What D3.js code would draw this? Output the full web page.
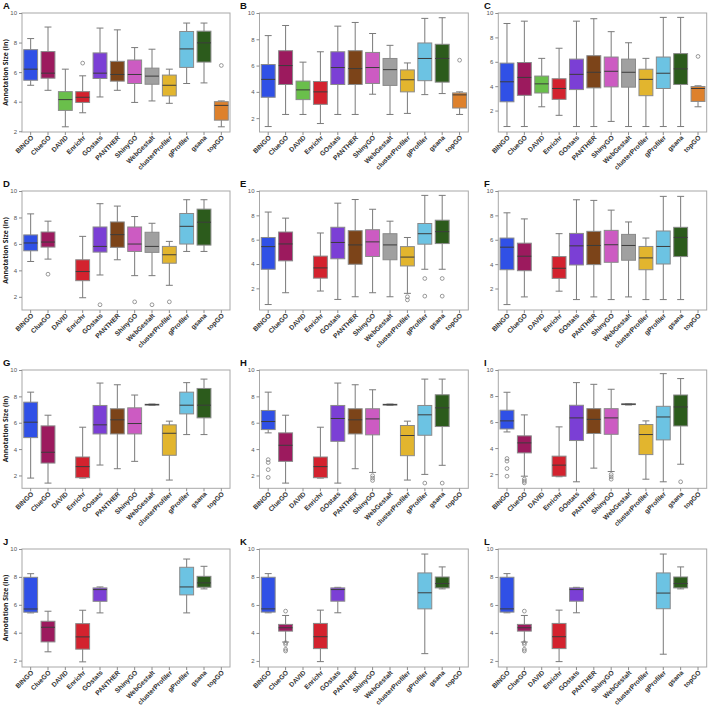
<!DOCTYPE html>
<html>
<head>
<meta charset="utf-8">
<script src="https://cdn.jsdelivr.net/npm/d3@7"></script>
<style>
  body { margin: 0; background: #fff; }
  svg { display: block; font-family: "Open Sans", "DejaVu Sans", sans-serif; }
  .frame { fill: none; stroke: #a8a8a8; stroke-width: 1; }
  .axis path { display: none; }
  .axis line { stroke: #8c8c8c; }
  .yax text { fill: #555; font-size: 6px; }
  .xax text { fill: #333; font-size: 6.7px; font-weight: 700; }
  .box { stroke: #8a8a8a; stroke-width: 1; }
  .whisk { stroke: #7a7a7a; stroke-width: 1; }
  .med { stroke: #3c3c3c; stroke-width: 1; }
  .flier { fill: none; stroke: #808080; stroke-width: 0.8; }
  .ylab { font-size: 6.8px; font-weight: 700; fill: #222; }
  .letter { font-family: "Liberation Sans", Arial, sans-serif; font-size: 9.5px; font-weight: 700; fill: #111; }
</style>
</head>
<body>
<svg id="chart" width="708" height="706"></svg>
<script>
const tools = ['BINGO', 'ClueGO', 'DAVID', 'Enrichr', 'GOstats', 'PANTHER', 'ShinyGO',
               'WebGestalt', 'clusterProfiler', 'gProfiler', 'gsana', 'topGO']
const palette = ['#3050e6', '#9c1a5e', '#6abf4b', '#d3222e', '#7b3fd5', '#7c4419',
                 '#cc5bc2', '#a0a0a0', '#e2b52e', '#6cc3e3', '#2c5b1c', '#de812c']
const yTicks = [2, 4, 6, 8, 10]

// one row per tool: [whisker low, q1, median, q3, whisker high, outliers?]  (null = no box)
const A = [
  [5.11, 5.45, 6.20, 7.52, 8.27],
  [4.77, 5.59, 5.93, 7.39, 9.05],
  [2.30, 3.41, 4.14, 4.68, 6.20],
  [3.25, 3.95, 4.30, 4.68, 5.75, [6.61]],
  [4.32, 5.57, 5.93, 7.30, 8.98],
  [4.77, 5.39, 5.84, 6.73, 8.86],
  [3.95, 5.23, 5.84, 6.82, 7.66],
  [4.05, 5.18, 5.73, 6.27, 7.55],
  [3.89, 4.39, 5.11, 5.80, 6.20],
  [5.23, 6.32, 7.57, 8.75, 9.32],
  [5.27, 6.68, 7.98, 8.77, 9.32],
  [2.30, 2.75, 3.75, 4.00, 4.05, [6.45]]
]
const B = [
  [1.36, 3.59, 4.95, 6.08, 8.28],
  [2.28, 4.56, 6.00, 7.13, 9.05],
  [2.28, 3.41, 4.15, 4.82, 6.26],
  [1.59, 3.05, 4.00, 4.79, 7.05],
  [2.28, 4.56, 5.85, 7.05, 9.00],
  [2.28, 4.56, 5.77, 7.13, 9.28],
  [3.82, 4.64, 5.85, 7.00, 8.44],
  [2.28, 4.49, 5.69, 6.54, 7.54],
  [2.36, 4.00, 4.92, 5.67, 6.20],
  [3.79, 4.85, 6.54, 7.72, 9.59],
  [3.87, 4.74, 6.54, 7.62, 9.64],
  [2.28, 2.77, 3.77, 3.92, 4.00, [6.41]]
]
const C = [
  [0.69, 2.72, 4.36, 5.89, 9.14],
  [0.69, 3.25, 4.72, 5.94, 9.33],
  [2.31, 3.44, 4.19, 4.83, 6.28],
  [1.61, 2.92, 3.81, 4.61, 7.11],
  [0.69, 3.72, 4.97, 6.22, 9.33],
  [0.69, 3.86, 5.14, 6.50, 9.53],
  [1.11, 3.94, 5.22, 6.39, 8.47],
  [0.69, 3.92, 5.14, 6.22, 7.56],
  [0.69, 3.22, 4.56, 5.39, 6.28],
  [0.69, 3.81, 5.06, 6.39, 9.64],
  [0.69, 4.14, 5.42, 6.67, 9.64],
  [2.31, 2.75, 3.81, 3.97, 4.03, [6.44]]
]
const D = [
  [4.67, 5.48, 6.07, 6.68, 8.27],
  [4.85, 5.76, 6.14, 6.90, 7.72, [3.71]],
  null,
  [1.93, 3.22, 3.91, 4.80, 6.57],
  [3.65, 5.38, 5.81, 7.28, 9.04, [1.40]],
  [4.80, 5.74, 6.70, 7.66, 8.86],
  [3.60, 5.43, 5.99, 7.28, 8.07, [1.62]],
  [3.60, 5.36, 5.81, 6.88, 7.56, [1.40]],
  [2.87, 4.54, 5.18, 5.81, 6.19, [1.62]],
  [5.43, 5.99, 7.33, 8.30, 9.34],
  [5.43, 5.91, 7.64, 8.63, 9.34],
  null
]
const E = [
  [0.67, 3.57, 5.43, 6.18, 8.27],
  [1.64, 4.26, 5.65, 6.63, 7.77],
  null,
  [1.78, 2.84, 3.68, 4.65, 6.55],
  [1.09, 4.43, 5.77, 7.02, 9.00],
  [1.31, 3.98, 5.57, 6.74, 9.30],
  [1.64, 4.62, 5.82, 6.82, 8.50],
  [1.31, 4.35, 5.57, 6.49, 7.52],
  [1.59, 3.84, 4.57, 5.43, 6.18, [1.31, 1.05]],
  [3.57, 5.63, 6.49, 7.33, 9.64, [2.81, 1.36]],
  [3.57, 5.68, 6.66, 7.60, 9.64, [2.81, 1.36]],
  null
]
const F = [
  [0.68, 3.54, 5.39, 6.14, 8.21],
  [1.31, 3.46, 4.65, 5.72, 7.71],
  null,
  [1.78, 2.83, 3.66, 4.62, 6.50],
  [1.09, 3.93, 5.50, 6.52, 9.28],
  [1.31, 3.96, 5.53, 6.69, 9.23],
  [1.09, 4.15, 5.59, 6.77, 8.43],
  [1.31, 4.32, 5.53, 6.44, 7.46],
  [1.09, 3.54, 4.51, 5.45, 6.14],
  [1.09, 4.01, 5.45, 6.72, 9.56],
  [1.09, 4.62, 6.19, 7.02, 9.56],
  null
]
const G = [
  [1.80, 4.87, 6.04, 7.56, 8.32],
  [1.42, 2.94, 3.76, 5.76, 6.57],
  null,
  [1.80, 1.83, 2.67, 3.40, 5.66],
  [2.79, 5.15, 5.84, 7.31, 9.01],
  [2.51, 5.15, 6.22, 7.06, 8.88],
  [3.07, 5.15, 5.94, 7.13, 8.10],
  [7.31, 7.34, 7.37, 7.40, 7.42],
  [1.65, 3.53, 5.20, 5.84, 6.12],
  [5.10, 6.67, 7.33, 8.32, 9.04],
  [5.10, 6.37, 7.33, 8.60, 9.31],
  null
]
const H = [
  [5.23, 5.48, 6.09, 6.93, 8.32, [3.20, 2.98, 2.44, 1.85]],
  [1.42, 3.07, 4.29, 5.23, 6.57],
  null,
  [1.80, 1.83, 2.67, 3.40, 5.66],
  [1.42, 4.59, 6.32, 7.31, 9.01],
  [2.51, 5.15, 6.22, 7.06, 8.88],
  [2.23, 5.08, 6.29, 7.06, 8.50, [1.98, 1.80, 1.62]],
  [7.31, 7.34, 7.37, 7.40, 7.42],
  [1.65, 3.50, 5.03, 5.79, 6.12],
  [2.08, 5.05, 6.60, 7.31, 9.31, [1.42]],
  [2.77, 5.71, 7.13, 8.12, 9.31, [1.42]],
  null
]
const I = [
  [5.24, 5.47, 6.09, 6.91, 8.29, [3.20, 3.00, 2.43, 1.84]],
  [1.84, 3.63, 4.40, 4.94, 6.55, [1.61, 1.46, 1.33]],
  null,
  [1.80, 1.84, 2.69, 3.38, 5.63],
  [1.41, 4.58, 6.32, 7.29, 9.03],
  [2.46, 5.12, 6.21, 7.03, 8.90],
  [2.20, 5.06, 6.32, 7.03, 8.52, [1.97, 1.79, 1.61]],
  [7.31, 7.34, 7.37, 7.40, 7.42],
  [1.61, 3.50, 5.04, 5.81, 6.09],
  [1.41, 4.63, 6.39, 7.21, 9.72],
  [2.76, 5.70, 7.16, 8.08, 9.34, [1.41]],
  null
]
const J = [
  [5.42, 5.47, 5.70, 7.97, 8.23],
  [2.63, 3.34, 4.39, 4.82, 5.54],
  null,
  [1.91, 2.82, 3.70, 4.65, 5.61],
  [5.42, 6.25, 7.09, 7.21, 7.28],
  null, null, null, null,
  [5.42, 6.71, 7.28, 8.69, 9.28],
  [7.14, 7.26, 7.57, 8.04, 8.76],
  null
]
const K = [
  [5.44, 5.49, 5.72, 7.98, 8.24],
  [3.35, 4.13, 4.37, 4.61, 5.25, [5.56, 3.30, 3.18, 2.83, 2.71]],
  null,
  [1.95, 2.88, 3.73, 4.68, 5.63],
  [5.44, 6.27, 7.10, 7.22, 7.26],
  null, null, null, null,
  [2.52, 5.72, 6.87, 8.29, 9.64],
  [7.15, 7.22, 7.53, 8.00, 8.72],
  null
]
const L = [
  [5.44, 5.49, 5.72, 7.98, 8.24],
  [3.35, 4.13, 4.37, 4.61, 5.25, [5.56, 3.30, 3.18, 2.83, 2.71]],
  null,
  [1.95, 2.88, 3.73, 4.68, 5.63],
  [5.44, 6.27, 7.10, 7.22, 7.26],
  null, null, null, null,
  [2.48, 5.73, 6.85, 8.29, 9.64],
  [7.15, 7.22, 7.53, 8.00, 8.72],
  null
]

const panels = [['A', A], ['B', B], ['C', C], ['D', D], ['E', E], ['F', F],
                ['G', G], ['H', H], ['I', I], ['J', J], ['K', K], ['L', L]]

// frame boxes for the 3x4 grid
const cols = [[22, 230], [259.5, 468.3], [498.3, 706.7]]
const rows = [[13, 132], [191, 310], [370, 488.3], [549, 667]]
const letterX = [3, 240, 484]

const svg = d3.select('#chart')

panels.forEach(([name, stats], pi) => {
    const [x0, x1] = cols[pi % 3], [y0, y1] = rows[Math.floor(pi / 3)]
    const vals = stats.filter(d => d).flatMap(d => d.slice(0, 5).concat(d[5] || []))
    const lo = d3.min(vals), hi = d3.max(vals)
    const x = d3.scaleBand().domain(tools).range([x0, x1]).paddingInner(0.2).paddingOuter(0.1)
    const y = d3.scaleLinear().domain([lo - 0.05 * (hi - lo), 10]).range([y1, y0])
    const g = svg.append('g')
    const bw = x.bandwidth(), cx = t => x(t) + bw / 2

    g.append('rect').attr('class', 'frame')
        .attr('x', x0).attr('y', y0).attr('width', x1 - x0).attr('height', y1 - y0)

    g.append('g').attr('class', 'axis yax').attr('transform', `translate(${x0},0)`)
        .call(d3.axisLeft(y).tickValues(yTicks).tickSize(3).tickPadding(2).tickFormat(d3.format('d')))

    const xa = g.append('g').attr('class', 'axis xax').attr('transform', `translate(0,${y1})`)
        .call(d3.axisBottom(x).tickSize(3).tickPadding(2))
    xa.selectAll('text')
        .attr('y', 0).attr('dy', '0.35em')
        .attr('text-anchor', 'end')
        .attr('transform', 'translate(1.5,4.5) rotate(-45)')

    const data = stats.map((d, i) => ({tool: tools[i], color: palette[i], s: d})).filter(d => d.s)
    const items = g.selectAll('.item').data(data).enter().append('g')

    // whiskers + caps
    items.append('line').attr('class', 'whisk')
        .attr('x1', d => cx(d.tool)).attr('x2', d => cx(d.tool))
        .attr('y1', d => y(d.s[0])).attr('y2', d => y(d.s[4]))
    ;[0, 4].forEach(k => items.append('line').attr('class', 'whisk')
        .attr('x1', d => cx(d.tool) - bw / 4).attr('x2', d => cx(d.tool) + bw / 4)
        .attr('y1', d => y(d.s[k])).attr('y2', d => y(d.s[k])))

    items.append('rect').attr('class', 'box')
        .attr('x', d => x(d.tool)).attr('width', bw)
        .attr('y', d => y(d.s[3])).attr('height', d => Math.max(0.5, y(d.s[1]) - y(d.s[3])))
        .attr('fill', d => d.color)

    items.append('line').attr('class', 'med')
        .attr('x1', d => x(d.tool)).attr('x2', d => x(d.tool) + bw)
        .attr('y1', d => y(d.s[2])).attr('y2', d => y(d.s[2]))

    items.selectAll('.flier').data(d => (d.s[5] || []).map(v => [d.tool, v])).enter()
        .append('circle').attr('class', 'flier')
        .attr('cx', d => cx(d[0])).attr('cy', d => y(d[1])).attr('r', 1.9)

    if (pi % 3 === 0)
        g.append('text').attr('class', 'ylab')
            .attr('transform', `translate(7.5,${(y0 + y1) / 2}) rotate(-90)`)
            .attr('text-anchor', 'middle')
            .text('Annotation Size (ln)')

    g.append('text').attr('class', 'letter')
        .attr('x', letterX[pi % 3]).attr('y', y0 - 4.5)
        .text(name)
})
</script>
</body>
</html>
